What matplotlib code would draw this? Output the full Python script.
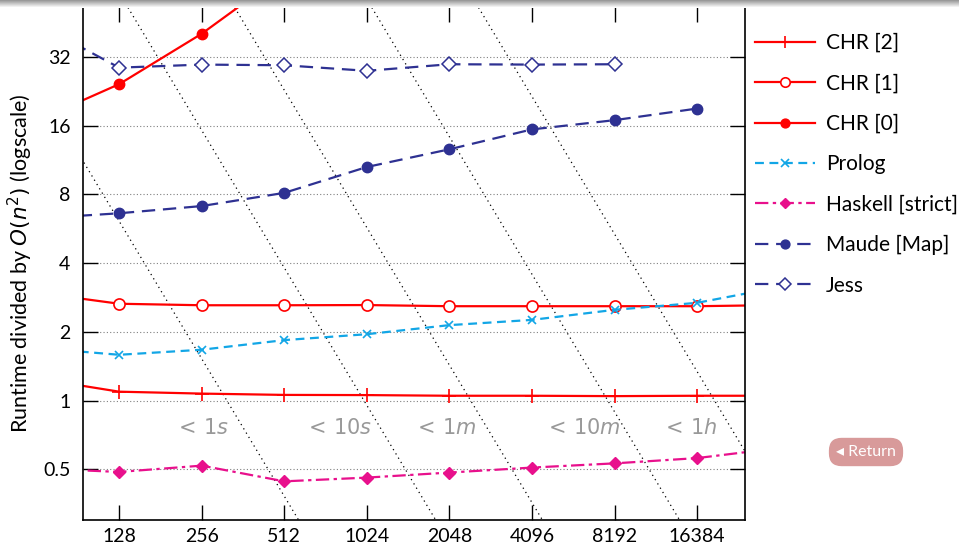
import numpy as np
import matplotlib as mpl
mpl.use('Agg')
import matplotlib.pyplot as plt

plt.rcParams['font.family'] = ['Lato', 'DejaVu Sans']
plt.rcParams['mathtext.fontset'] = 'dejavusans'

# problem sizes (64 and 32768 are only there so the lines run to the frame)
n = [64, 128, 256, 512, 1024, 2048, 4096, 8192, 16384, 32768]
chr2 = [1.25, 1.094, 1.073, 1.059, 1.057, 1.05, 1.05, 1.046, 1.05, 1.05]
chr1 = [2.97, 2.655, 2.615, 2.615, 2.62, 2.59, 2.59, 2.59, 2.59, 2.62]
chr0_n = [64, 128, 256, 512]
chr0 = [16.8, 24.3, 40.4, 74.0]
prolog = [1.70, 1.587, 1.67, 1.84, 1.953, 2.14, 2.256, 2.497, 2.68, 3.14]
haskell = [0.505, 0.487, 0.519, 0.443, 0.46, 0.484, 0.509, 0.531, 0.56, 0.62]
maude_n = [64, 128, 256, 512, 1024, 2048, 4096, 8192, 16384]
maude = [6.27, 6.61, 7.11, 8.12, 10.54, 12.6, 15.4, 16.9, 19.0]
jess_n = [64, 128, 256, 512, 1024, 2048, 4096, 8192]
jess = [44.9, 28.7, 29.6, 29.4, 27.8, 29.7, 29.6, 29.7]

# constant runtime contours: value * n^2 = K
time_k = [1e5, 1e6, 6e6, 6e7, 3.6e8]
time_labels = [r'$<\,1s$', r'$<\,10s$', r'$<\,1m$', r'$<\,10m$', r'$<\,1h$']

xticks = [128, 256, 512, 1024, 2048, 4096, 8192, 16384]
yticks = [0.5, 1, 2, 4, 8, 16, 32]
ytick_labels = ['0.5', '1', '2', '4', '8', '16', '32']

red = '#ff0000'
cyan = '#12a6e6'
magenta = '#e8108c'
blue = '#2e3192'

fig = plt.figure(figsize=(9.59, 5.49), dpi=100)
ax = fig.add_axes([83 / 959, 1 - 520 / 549, (745 - 83) / 959, (520 - 7) / 549])

xlo, xhi = 94.5, 24500
ylo, yhi = 0.30, 52.9

# contour lines
nn = np.geomspace(40, 40000, 200)
for k in time_k:
    ax.plot(nn, k / nn ** 2, color='black', lw=0.9, ls=(0, (1, 3)), zorder=1)
for k, lab in zip(time_k, time_labels):
    yv = 0.755
    ax.text(0.7 * np.sqrt(k / yv), yv, lab, color='#999999', fontsize=15,
            ha='center', va='center')

ax.plot(n, chr2, color=red, lw=1.6, marker='+', ms=10, mew=1.2, label='CHR [2]')
ax.plot(n, chr1, color=red, lw=1.6, marker='o', ms=8, mfc='white', mew=1.2, label='CHR [1]')
ax.plot(chr0_n, chr0, color=red, lw=1.6, marker='o', ms=7.5, label='CHR [0]')
ax.plot(n, prolog, color=cyan, lw=1.6, ls=(0, (4, 2.5)), marker='x', ms=6, mew=1.2, label='Prolog')
ax.plot(n, haskell, color=magenta, lw=1.6, ls=(0, (6, 2, 1.5, 2)), marker='D', ms=6.5, label='Haskell [strict]')
ax.plot(maude_n, maude, color=blue, lw=1.6, ls=(0, (6, 3.5)), marker='o', ms=7.5, label='Maude [Map]')
ax.plot(jess_n, jess, color=blue, lw=1.6, ls=(0, (6, 3.5)), marker='D', ms=7, mfc='white', mew=1.1, label='Jess')

ax.set_xscale('log', base=2)
ax.set_yscale('log', base=2)
ax.set_xlim(xlo, xhi)
ax.set_ylim(ylo, yhi)
ax.set_xticks(xticks)
ax.set_xticklabels([str(v) for v in xticks])
ax.set_yticks(yticks)
ax.set_yticklabels(ytick_labels)
ax.minorticks_off()
ax.tick_params(direction='in', length=11, width=1, top=True, right=True,
               labelsize=14, pad=6)
ax.tick_params(axis='y', pad=9)
ax.yaxis.grid(True, ls=(0, (1, 2)), color='gray', lw=0.8)
for s in ax.spines.values():
    s.set_linewidth(1.2)
ax.set_ylabel(r'Runtime divided by $O(n^2)$ (logscale)', fontsize=15.5, labelpad=6)

fig.legend(loc='upper left', bbox_to_anchor=(755 / 959, 1 - 33 / 549), frameon=False,
           fontsize=15, handlelength=2.9, handletextpad=0.5, labelspacing=0.98,
           borderaxespad=0, borderpad=0, markerscale=0.85)

# top shadow strip
sh = fig.add_axes([0, 1 - 8 / 549, 1, 8 / 549])
sh.imshow(np.linspace(0.6, 1.0, 8).reshape(-1, 1), cmap='gray', vmin=0, vmax=1,
          aspect='auto', extent=(0, 1, 0, 1))
sh.axis('off')

fig.text(866 / 959, 1 - 452 / 549, '\u25c2 Return', color='white', fontsize=11.5,
         ha='center', va='center', family=['Lato', 'DejaVu Sans'],
         bbox=dict(boxstyle='round,pad=0.45,rounding_size=0.8', fc='#d89a9a', ec='none'))

fig.savefig('out.png', dpi=100)
